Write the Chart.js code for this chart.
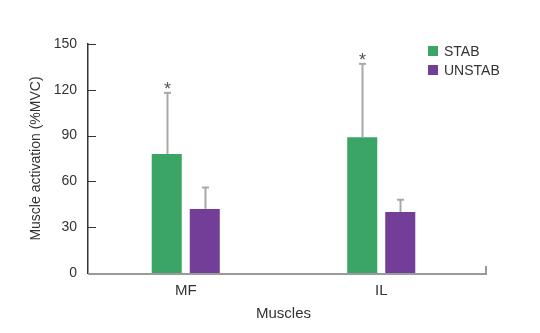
<!DOCTYPE html>
<html>
<head>
<meta charset="utf-8">
<script src="https://cdn.jsdelivr.net/npm/chart.js@4/dist/chart.umd.min.js"></script>
<style>
  html, body { margin: 0; padding: 0; background: #fff; }
  #wrap { width: 540px; height: 333px; position: relative; }
</style>
</head>
<body>
<div id="wrap"><canvas id="c" width="540" height="333"></canvas></div>
<script>
const categories = ['MF', 'IL'];
const seriesNames = ['STAB', 'UNSTAB'];
const stabValues = [78, 89];
const unstabValues = [42, 40];
const stabErrors = [40, 48];
const unstabErrors = [14, 8];
const stabMarks = ['*', '*'];
const unstabMarks = ['', ''];
const yTicks = [0, 30, 60, 90, 120, 150];

const FONT = "'Liberation Sans Narrow', 'Arial Narrow', 'Liberation Sans', sans-serif";
const GREEN = '#3ba566';
const PURPLE = '#723e98';
const AXIS_END = 487;

const errors = [stabErrors, unstabErrors];
const marks = [stabMarks, unstabMarks];

const overlay = {
  id: 'overlay',
  afterDatasetsDraw(chart) {
    const ctx = chart.ctx;
    const y = chart.scales.y;
    const area = chart.chartArea;
    ctx.save();
    // x axis line (extends slightly past the plot area) with end tick
    const ay = Math.round(area.bottom) + 1;
    ctx.strokeStyle = '#9a9a9a';
    ctx.lineWidth = 2;
    ctx.beginPath();
    ctx.moveTo(area.left, ay);
    ctx.lineTo(AXIS_END, ay);
    ctx.stroke();
    ctx.beginPath();
    ctx.moveTo(AXIS_END - 1, ay + 1);
    ctx.lineTo(AXIS_END - 1, ay - 8);
    ctx.stroke();
    // error bars
    chart.data.datasets.forEach((ds, di) => {
      const meta = chart.getDatasetMeta(di);
      meta.data.forEach((bar, i) => {
        const top = y.getPixelForValue(ds.data[i] + errors[di][i]);
        const x = Math.round(bar.x) + 0.5;
        ctx.strokeStyle = '#a8a8a8';
        ctx.lineWidth = 2;
        ctx.beginPath();
        ctx.moveTo(x, bar.y);
        ctx.lineTo(x, top);
        ctx.stroke();
        ctx.beginPath();
        ctx.moveTo(x - 3.5, top);
        ctx.lineTo(x + 3.5, top);
        ctx.stroke();
        if (marks[di][i]) {
          ctx.fillStyle = '#555';
          ctx.font = '18px ' + FONT;
          ctx.textAlign = 'center';
          ctx.textBaseline = 'alphabetic';
          ctx.fillText(marks[di][i], x, top + 2);
        }
      });
    });
    // inward y ticks
    ctx.strokeStyle = '#333';
    ctx.lineWidth = 1;
    yTicks.forEach(v => {
      if (v === 0) return;
      const py = Math.round(y.getPixelForValue(v)) + 0.5;
      ctx.beginPath();
      ctx.moveTo(area.left, py);
      ctx.lineTo(area.left + 8, py);
      ctx.stroke();
    });
    // legend
    ctx.font = '14px ' + FONT;
    ctx.textAlign = 'left';
    ctx.textBaseline = 'middle';
    chart.data.datasets.forEach((ds, di) => {
      const ly = 51 + di * 19;
      ctx.fillStyle = ds.backgroundColor;
      ctx.fillRect(428, ly - 5, 10, 10);
      ctx.fillStyle = '#333';
      ctx.fillText(ds.label, 444, ly + 1);
    });
    ctx.restore();
  }
};

new Chart(document.getElementById('c'), {
  type: 'bar',
  data: {
    labels: categories,
    datasets: [
      { label: seriesNames[0], data: stabValues, backgroundColor: GREEN },
      { label: seriesNames[1], data: unstabValues, backgroundColor: PURPLE }
    ]
  },
  options: {
    responsive: false,
    animation: false,
    devicePixelRatio: 1,
    layout: { padding: { top: 44, right: 61, left: 0, bottom: 6 } },
    plugins: { legend: { display: false }, tooltip: { enabled: false } },
    datasets: { bar: { categoryPercentage: 0.389, barPercentage: 0.79 } },
    scales: {
      x: {
        grid: { display: false, drawTicks: false },
        border: { display: false },
        ticks: { color: '#333', font: { family: FONT, size: 15 }, padding: 9 },
        title: { display: true, text: 'Muscles', color: '#333', font: { family: FONT, size: 15 }, padding: { top: 2, bottom: 4 } },
        afterFit(s) { s.height = 54; }
      },
      y: {
        min: 0, max: 150,
        afterBuildTicks(s) { s.ticks = yTicks.map(v => ({ value: v })); },
        grid: { display: false, drawTicks: false },
        border: { color: '#333', width: 1.5 },
        ticks: { color: '#333', font: { family: FONT, size: 14 }, padding: 11 },
        title: { display: true, text: 'Muscle activation (%MVC)', color: '#333', font: { family: FONT, size: 14 }, padding: { top: 28, bottom: 8 } },
        afterFit(s) { s.width = 88; }
      }
    }
  },
  plugins: [overlay]
});
</script>
</body>
</html>
